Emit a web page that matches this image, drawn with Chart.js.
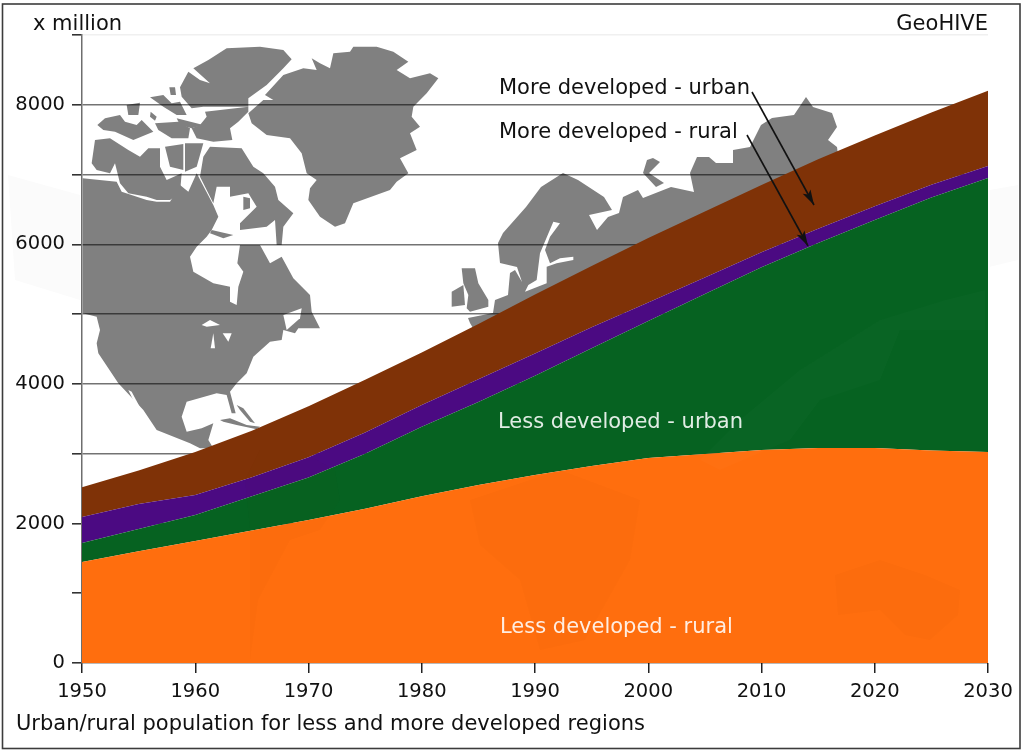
<!DOCTYPE html>
<html>
<head>
<meta charset="utf-8">
<style>html,body{margin:0;padding:0;background:#fff}canvas{display:block}</style>
<script src="https://cdn.jsdelivr.net/npm/chart.js@4"></script>
</head>
<body>
<canvas id="c" width="1024" height="750"></canvas>
<script>
const years = [1950,1955,1960,1965,1970,1975,1980,1985,1990,1995,2000,2005,2010,2015,2020,2025,2030];
const lessRural = [1448,1600,1749,1900,2050,2210,2390,2550,2695,2825,2939,2996,3054,3082,3082,3047,3025];
const lessUrban = [272,320,371,490,610,790,994,1192,1420,1685,1961,2294,2616,2938,3268,3623,3925];
const moreRural = [373,358,287,272,290,305,315,325,320,300,265,235,215,205,195,185,172];
const moreUrban = [427,482,618,668,730,755,751,793,845,880,925,945,965,995,1015,1035,1078];

const FONT = '"DejaVu Sans", sans-serif';

// Background map decoration, traced in page pixels x3 (not data).
const mapGray = [
 [540,262,565,215,600,240,630,250,580,205,625,180,680,145,780,140,850,150,875,178,850,205,800,255,745,295,745,320,610,320,575,325,545,290],
 [615,335,745,320,745,335,715,365,690,385,697,420,640,425,590,415,575,385,600,375,620,350],
 [465,370,535,365,570,385,565,415,515,415,475,390],
 [530,355,610,375,575,385,540,375],
 [292,375,315,355,360,345,375,365,410,375,425,360,460,395,400,420,345,395,310,390],
 [380,315,420,308,415,345,385,345],
 [450,292,490,285,515,310,540,305,560,345,530,345,490,320],
 [508,262,525,262,528,285,512,285],
 [452,335,470,350,465,362,450,350],
 [285,420,330,415,385,450,420,470,445,445,480,445,480,500,500,540,545,520,540,580,510,600,470,600,440,590,385,580,360,550,345,490,330,520,290,510,275,490],
 [495,440,550,432,550,510,510,500],
 [555,430,610,430,590,500,555,515],
 [610,470,630,440,725,445,760,500,790,520,825,560,835,600,880,640,850,680,845,735,830,735,825,660,800,680,720,690,720,670,770,620,745,580,690,590,690,560,650,560,640,610,600,530],
 // North American mainland
 [248,535,350,545,365,575,440,600,470,605,510,605,540,555,565,575,590,520,640,615,655,650,635,690,620,710,590,740,570,770,580,815,640,850,690,860,690,905,710,915,715,860,730,815,712,790,720,735,780,735,810,790,845,770,880,835,930,885,935,935,960,985,895,985,885,1000,850,990,845,1020,810,1025,760,1070,740,1120,710,1150,690,1175,707,1240,695,1240,680,1185,650,1180,560,1205,545,1250,560,1295,605,1285,640,1270,625,1320,640,1345,600,1345,570,1330,470,1290,430,1230,355,1150,295,1060,290,1030,300,990,290,950,248,940],
 // Cuba, Bahamas
 [660,1260,690,1255,740,1275,780,1280,770,1288,710,1275,670,1265],
 [710,1215,730,1225,765,1270,750,1265,720,1230],
 // Greenland
 [745,340,790,300,820,300,795,285,850,225,910,205,950,210,935,175,960,190,990,205,1000,160,1050,155,1060,140,1130,140,1180,155,1225,185,1190,210,1230,235,1290,220,1315,235,1280,280,1240,320,1235,350,1260,380,1230,400,1250,450,1200,475,1225,520,1190,545,1170,570,1060,610,1035,670,1005,680,960,650,925,600,930,565,950,540,920,520,905,460,870,415,800,405,755,370],
 // Britain, Ireland
 [1385,805,1425,805,1435,850,1465,900,1465,920,1410,935,1400,925,1405,885,1390,850],
 [1355,875,1390,855,1395,915,1355,920],
 // Eurasia
 [1410,969,1404,954,1479,939,1485,900,1524,885,1530,819,1545,810,1566,846,1551,801,1500,789,1494,729,1509,699,1578,621,1623,561,1689,519,1734,540,1812,591,1836,630,1767,645,1791,690,1824,651,1857,639,1869,591,1914,570,1929,594,2013,561,2082,576,2070,519,2091,471,2127,471,2148,489,2199,489,2199,450,2250,441,2283,375,2316,354,2382,345,2418,291,2439,321,2496,339,2511,381,2484,420,2511,441,2520,510,1800,900,1440,1020],
 // Novaya Zemlya
 [1959,474,1980,486,1947,519,1992,549,1968,561,1929,519,1941,480]
];
const mapWhite = [
 [850,945,905,925,900,955,860,990],
 [605,975,630,960,660,975,620,980],
 [640,1000,645,1045,632,1045],
 [668,1000,695,1000,685,1025],
 [385,1170,395,1175,435,1250,425,1255],
 // Baltic
 [1660,665,1680,670,1650,710,1635,750,1650,790,1680,775,1720,770,1720,780,1670,790,1640,800,1640,850,1575,875,1585,855,1610,840,1620,760]
];
const mapIslandInBay = [[730,590,750,595,750,625,730,630],[635,690,700,705,670,715,630,700]];

// Very faint continents visible through the filled bands.
const ghostDark = [
 [250,660,258,600,290,540,320,530,340,500,335,470,300,450,260,450,245,480,250,530],
 [835,575,880,560,925,575,960,590,958,615,930,640,905,635,880,610,838,615],
 [470,500,560,470,640,500,630,560,585,640,540,650,520,580,480,545]
];
const ghostLight = [
 [985,290,945,300,880,320,800,370,740,420,700,460,720,470,790,440,820,400,880,380,900,330,985,330]
];
const ghostOutside = [
 [24,525,240,585,240,900,45,840],
 [2970,570,3054,555,3054,780,2970,800]
];

const labels = [
 {t:'More developed - urban', x:499, y:89, c:'#111'},
 {t:'More developed - rural', x:499, y:133, c:'#111'},
 {t:'Less developed - urban', x:498, y:423, c:'rgba(255,255,255,.88)'},
 {t:'Less developed - rural', x:500, y:628, c:'rgba(255,255,255,.88)'},
 {t:'x million', x:33, y:25, c:'#111'},
 {t:'GeoHIVE', x:988, y:25, c:'#111', a:'right'},
 {t:'Urban/rural population for less and more developed regions', x:16, y:725, c:'#111'}
];
const arrows = [[752,92,814,205],[747,135,808,246]];

function poly(ctx, p){
  ctx.beginPath();
  ctx.moveTo(p[0]/3,p[1]/3);
  for(let i=2;i<p.length;i+=2) ctx.lineTo(p[i]/3,p[i+1]/3);
  ctx.closePath(); ctx.fill();
}
const decor = {
  id:'decor',
  beforeDraw(chart){
    const ctx=chart.ctx, a=chart.chartArea;
    ctx.save();
    ctx.fillStyle='#fff'; ctx.fillRect(0,0,1024,750);
    ctx.fillStyle='#fbfbfb'; ghostOutside.forEach(p=>poly(ctx,p));
    ctx.beginPath(); ctx.rect(a.left,a.top,a.right-a.left,a.bottom-a.top); ctx.clip();
    ctx.fillStyle='#808080'; mapGray.forEach(p=>poly(ctx,p));
    ctx.fillStyle='#fff'; mapWhite.forEach(p=>poly(ctx,p));
    ctx.fillStyle='#808080'; mapIslandInBay.forEach(p=>poly(ctx,p));
    ctx.restore();
  },
  afterDatasetsDraw(chart){
    const ctx=chart.ctx, a=chart.chartArea;
    ctx.save();
    ctx.beginPath(); ctx.rect(a.left,a.top,a.right-a.left,a.bottom-a.top); ctx.clip();
    ctx.fillStyle='rgba(120,40,0,.02)'; ghostDark.forEach(p=>poly(ctx,p.map(v=>v*3)));
    ctx.fillStyle='rgba(255,255,255,.015)'; ghostLight.forEach(p=>poly(ctx,p.map(v=>v*3)));
    ctx.restore();
  },
  afterDraw(chart){
    const ctx=chart.ctx;
    ctx.save();
    ctx.font='21px '+FONT; ctx.textBaseline='middle';
    labels.forEach(l=>{ctx.fillStyle=l.c; ctx.textAlign=l.a||'left'; ctx.fillText(l.t,l.x,l.y);});
    ctx.strokeStyle='#111'; ctx.fillStyle='#111'; ctx.lineWidth=1.6;
    arrows.forEach(([x0,y0,x1,y1])=>{
      ctx.beginPath(); ctx.moveTo(x0,y0); ctx.lineTo(x1,y1); ctx.stroke();
      const th=Math.atan2(y1-y0,x1-x0), L=16, W=.28;
      ctx.beginPath(); ctx.moveTo(x1,y1);
      ctx.lineTo(x1-L*Math.cos(th-W),y1-L*Math.sin(th-W));
      ctx.lineTo(x1-L*.75*Math.cos(th),y1-L*.75*Math.sin(th));
      ctx.lineTo(x1-L*Math.cos(th+W),y1-L*Math.sin(th+W));
      ctx.closePath(); ctx.fill();
    });
    ctx.strokeStyle='#3c3c3c'; ctx.lineWidth=1.6;
    ctx.strokeRect(2.5,4,1017.5,744.5);
    ctx.restore();
  }
};
const pts = arr => arr.map((v,i)=>({x:years[i],y:v}));
const band = (label,arr,color,fill)=>({label,data:pts(arr),backgroundColor:color,borderColor:color,borderWidth:0,pointRadius:0,tension:0,fill});
new Chart(document.getElementById('c'),{
  type:'line',
  data:{datasets:[
    band('Less developed - rural',lessRural,'#ff6e0e','origin'),
    band('Less developed - urban',lessUrban,'#066221','-1'),
    band('More developed - rural',moreRural,'#4b0a82','-1'),
    band('More developed - urban',moreUrban,'#7f3207','-1')
  ]},
  plugins:[decor],
  options:{
    responsive:false,animation:false,devicePixelRatio:1,
    layout:{padding:{top:35,right:36,left:0,bottom:0}},
    plugins:{legend:{display:false},tooltip:{enabled:false}},
    scales:{
      x:{type:'linear',min:1950,max:2030,
        afterFit(s){s.height=87;},
        grid:{drawOnChartArea:false,drawTicks:true,tickLength:10,tickColor:'#222',lineWidth:1.5},
        border:{display:false},
        ticks:{stepSize:10,padding:7,color:'#111',maxRotation:0,autoSkip:false,font:{size:19.5,family:FONT},callback:v=>String(v)}},
      y:{stacked:true,min:0,max:9000,
        afterFit(s){s.width=82;},
        grid:{color:c=>c.tick&&c.tick.value===9000?'#f0f0f0':'rgba(0,0,0,.55)',lineWidth:1.6,tickLength:10,tickColor:'#333'},
        border:{display:true,color:'#6e6e6e',width:1.5,z:-1},
        ticks:{stepSize:1000,padding:7,color:'#111',autoSkip:false,font:{size:19.5,family:FONT},callback:v=>v%2000===0?String(v):''}}
    }
  }
});
</script>
</body>
</html>
